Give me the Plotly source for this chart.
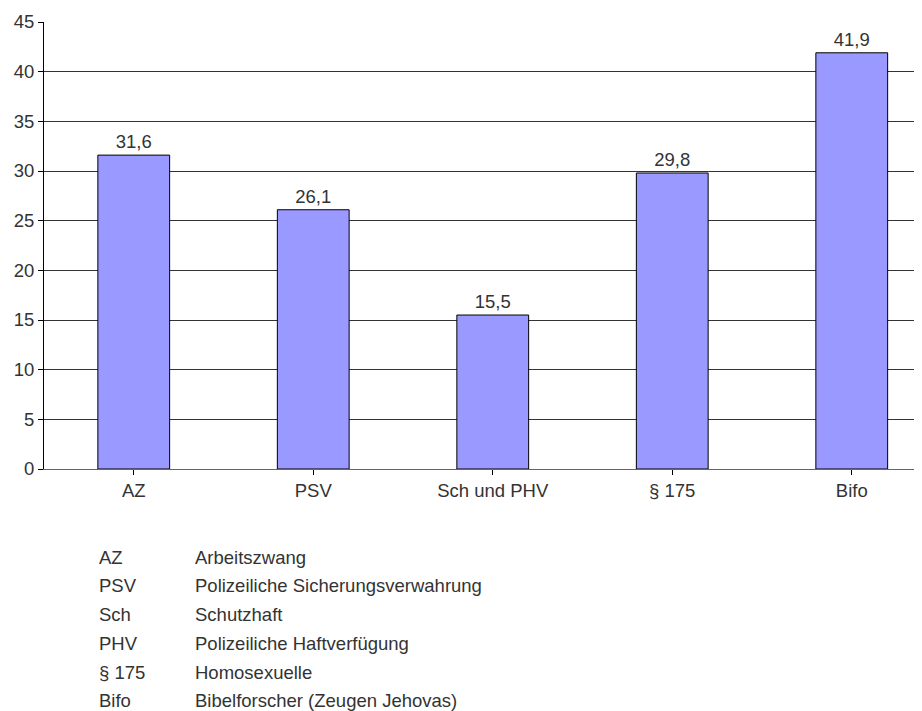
import plotly.graph_objects as go

categories = ["AZ", "PSV", "Sch und PHV", "§ 175", "Bifo"]
values = [31.6, 26.1, 15.5, 29.8, 41.9]
abbrevs = ["AZ", "PSV", "Sch", "PHV", "§ 175", "Bifo"]
meanings = ["Arbeitszwang", "Polizeiliche Sicherungsverwahrung", "Schutzhaft",
            "Polizeiliche Haftverfügung", "Homosexuelle", "Bibelforscher (Zeugen Jehovas)"]
y_ticks = [0, 5, 10, 15, 20, 25, 30, 35, 40, 45]

# page body has an 8px default margin; compensate so the chart fills the 922x711 window
OFF = 8
W, H = 922 - OFF, 711 - OFF
L, T, B = 44 - OFF, 22 - OFF, 469 - OFF
FONT = "Liberation Sans, Arial, sans-serif"
TXT = "#333333"
FS = 18.5

fig = go.Figure()
fig.add_trace(go.Bar(
    x=list(range(len(categories))), y=values, width=0.4,
    marker=dict(color="#9999FF", line=dict(color="#000000", width=1)),
    text=values, texttemplate="%{y:.1f}", textposition="outside",
    textfont=dict(size=FS, color=TXT, family=FONT), cliponaxis=False,
))

annotations = []
plot_h = B - T
plot_w = W - L
def px(xp):
    return (xp - OFF - L) / plot_w
def py(yp):
    return (B - (yp - OFF)) / plot_h
row0, step = 557, 28.8
for i, (a, m) in enumerate(zip(abbrevs, meanings)):
    yy = py(row0 + i * step)
    annotations.append(dict(x=px(97), y=yy, xref="paper", yref="paper", text=a,
                            showarrow=False, xanchor="left", yanchor="middle",
                            font=dict(size=FS, color=TXT, family=FONT)))
    annotations.append(dict(x=px(193), y=yy, xref="paper", yref="paper", text=m,
                            showarrow=False, xanchor="left", yanchor="middle",
                            font=dict(size=FS, color=TXT, family=FONT)))

fig.update_layout(
    width=W, height=H,
    margin=dict(l=L, r=0, t=T, b=H - B, pad=0),
    paper_bgcolor="white", plot_bgcolor="white",
    separators=",.",
    showlegend=False,
    font=dict(family=FONT, size=FS, color=TXT),
    annotations=annotations,
    xaxis=dict(
        range=[-0.5, -0.5 + plot_w / 179.5],
        tickmode="array", tickvals=list(range(len(categories))), ticktext=categories,
        tickson="boundaries", ticks="outside", ticklen=5, tickcolor="#000000",
        showgrid=False, showline=True, linecolor="#666666", linewidth=1,
        zeroline=False, tickfont=dict(size=FS, color=TXT, family=FONT),
        fixedrange=True,
    ),
    yaxis=dict(
        range=[0, 45], tickvals=y_ticks, ticks="outside", ticklen=5, tickcolor="#000000",
        showgrid=True, gridcolor="#333333", gridwidth=1,
        showline=True, linecolor="#000000", linewidth=1, zeroline=False,
        tickfont=dict(size=FS, color=TXT, family=FONT), fixedrange=True,
    ),
    bargap=0.6,
)

fig.write_html("out.html")
